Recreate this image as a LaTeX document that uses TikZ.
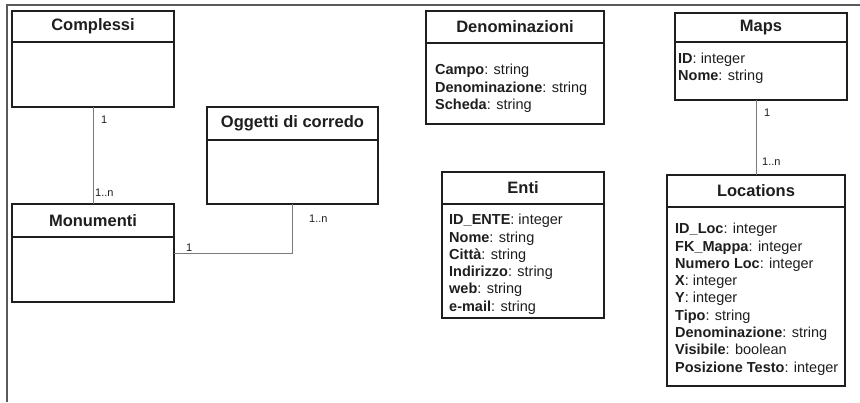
\documentclass[tikz,border=0pt]{standalone}
\usepackage{fontspec}
\setmainfont{Liberation Sans}
\usetikzlibrary{positioning}

\definecolor{boxline}{HTML}{1E1E1E}
\definecolor{linkline}{HTML}{7A7A7A}
\definecolor{frameline}{HTML}{5A5A5A}

\begin{document}
\begin{tikzpicture}[x=1pt, y=-1pt,
	head/.style={draw=boxline, line width=1.3pt, inner sep=0pt, outer sep=0pt, anchor=north west, text=boxline, font=\fontsize{16.5}{18}\selectfont\bfseries},
	body/.style={draw=boxline, line width=1.3pt, inner sep=0pt, outer sep=0pt, below=0pt of #1},
	attrs/.style={anchor=north west, inner sep=0pt, align=left, text=boxline, font=\fontsize{14.5}{17.3}\selectfont},
	mult/.style={anchor=west, inner sep=0pt, text=boxline, font=\fontsize{11}{12}\selectfont},
	link/.style={draw=linkline, line width=0.8pt}]
	\useasboundingbox (0,0) rectangle (860,402);
	
	% frame
	\draw[frameline, line width=1.8pt] (860,5) -- (7,5) -- (7,402);
	
	% classes
	\node[head, minimum width=162pt, minimum height=31pt] (compl) at (12,11) {Complessi};
	\node[body=compl, minimum width=162pt, minimum height=65pt] (compl-b) {};
	
	\node[head, minimum width=171pt, minimum height=33pt] (ogg) at (207,107) {Oggetti di corredo};
	\node[body=ogg, minimum width=171pt, minimum height=64pt] (ogg-b) {};
	
	\node[head, minimum width=162pt, minimum height=33pt] (mon) at (12,204) {Monumenti};
	\node[body=mon, minimum width=162pt, minimum height=65pt] (mon-b) {};
	
	\node[head, minimum width=178pt, minimum height=32pt] (deno) at (426,11) {Denominazioni};
	\node[body=deno, minimum width=178pt, minimum height=81pt] (deno-b) {};
	\node[attrs] (deno-a) at (435,64) {\textbf{Campo}: string\\\textbf{Denominazione}: string\\\textbf{Scheda}: string};
	
	\node[head, minimum width=172pt, minimum height=29pt] (maps) at (675,13) {Maps};
	\node[body=maps, minimum width=172pt, minimum height=58pt] (maps-b) {};
	\node[attrs] (maps-a) at (678,52.5) {\textbf{ID}: integer\\\textbf{Nome}: string};
	
	\node[head, minimum width=162pt, minimum height=32pt] (enti) at (442,172) {Enti};
	\node[body=enti, minimum width=162pt, minimum height=114pt] (enti-b) {};
	\node[attrs] (enti-a) at (449,214) {\textbf{ID\_ENTE}: integer\\\textbf{Nome}: string\\\textbf{Città}: string\\\textbf{Indirizzo}: string\\\textbf{web}: string\\\textbf{e-mail}: string};
	
	\node[head, minimum width=178pt, minimum height=32pt] (loc) at (667,175) {Locations};
	\node[body=loc, minimum width=178pt, minimum height=179pt] (loc-b) {};
	\node[attrs] (loc-a) at (675,223) {\textbf{ID\_Loc}: integer\\\textbf{FK\_Mappa}: integer\\\textbf{Numero Loc}: integer\\\textbf{X}: integer\\\textbf{Y}: integer\\\textbf{Tipo}: string\\\textbf{Denominazione}: string\\\textbf{Visibile}: boolean\\\textbf{Posizione Testo}: integer};
	
	% associations
	\draw[link] (compl-b.south) -- (mon.north);
	\draw[link] (ogg-b.south) |- ([yshift=16.5pt]mon-b.east);
	\draw[link] (loc.north |- maps-b.south) -- (loc.north);
	
	\node[mult] (m1) at (101,120) {1};
	\node[mult] (m2) at (95,193) {1..n};
	\node[mult] (m3) at (186,248) {1};
	\node[mult] (m4) at (309,219) {1..n};
	\node[mult] (m5) at (764,113) {1};
	\node[mult] (m6) at (762,162) {1..n};
\end{tikzpicture}
\end{document}
